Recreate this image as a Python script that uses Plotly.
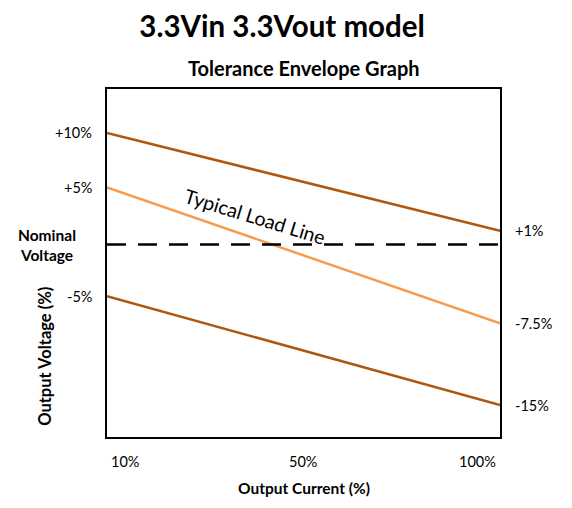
import plotly.graph_objects as go

# Data
current = [10, 100]                 # Output current (%)
upper_limit = [10, 1]               # Output voltage (%)
typical_load = [5, -7.5]
lower_limit = [-5, -15]
nominal = [-0.25, -0.25]
left_labels = ["+10%", "+5%", "-5%"]
left_values = [10, 5, -5]
right_labels = ["+1%", "-7.5%", "-15%"]
right_values = [1, -7.5, -15]
x_tick_labels = ["10%", "50%", "100%"]
x_tick_pos = [0.046, 0.499, 0.944]

FONT = "Lato"
DARK = "#AD5710"
LIGHT = "#F79C4E"

fig = go.Figure()
fig.add_trace(go.Scatter(x=current, y=upper_limit, mode="lines",
                         line=dict(color=DARK, width=2.5), showlegend=False))
fig.add_trace(go.Scatter(x=current, y=typical_load, mode="lines",
                         line=dict(color=LIGHT, width=2.5), showlegend=False))
fig.add_trace(go.Scatter(x=current, y=lower_limit, mode="lines",
                         line=dict(color=DARK, width=2.5), showlegend=False))
fig.add_trace(go.Scatter(x=current, y=nominal, mode="lines",
                         line=dict(color="black", width=2.5, dash="19px,12px"),
                         showlegend=False))

TICK = 14.5
LBL = 15.5
ann = []
for t, v in zip(left_labels, left_values):
    ann.append(dict(x=0, xref="paper", y=v, yref="y", text=t, showarrow=False,
                    xanchor="right", xshift=-13, font=dict(size=TICK, color="black")))
for t, v in zip(right_labels, right_values):
    ann.append(dict(x=1, xref="paper", y=v, yref="y", text=t, showarrow=False,
                    xanchor="left", xshift=13, font=dict(size=TICK, color="black")))
for t, p in zip(x_tick_labels, x_tick_pos):
    ann.append(dict(x=p, xref="paper", y=-0.069, yref="paper", text=t, showarrow=False,
                    xanchor="center", yanchor="middle", font=dict(size=TICK, color="black")))
ann.append(dict(x=-0.153, xref="paper", y=-0.3, yref="y", text="<b>Nominal<br>Voltage</b>",
                showarrow=False, xanchor="center", yanchor="middle",
                font=dict(size=LBL, color="black")))
ann.append(dict(x=-0.158, xref="paper", y=0.233, yref="paper", text="<b>Output Voltage (%)</b>",
                showarrow=False, textangle=-90, xanchor="center", yanchor="middle",
                font=dict(size=16.5, color="black")))
ann.append(dict(x=0.5, xref="paper", y=-0.147, yref="paper", text="<b>Output Current (%)</b>",
                showarrow=False, xanchor="center", yanchor="middle",
                font=dict(size=LBL, color="black")))
ann.append(dict(x=43.9, xref="x", y=2.3, yref="y", text="Typical Load Line",
                showarrow=False, textangle=17, xanchor="center", yanchor="middle",
                font=dict(size=19.5, color="black")))
ann.append(dict(x=0.5, xref="paper", y=1.06, yref="paper", text="<b>Tolerance Envelope Graph</b>",
                showarrow=False, xanchor="center", yanchor="middle",
                font=dict(size=20, color="black")))

fig.update_layout(
    width=564, height=500,
    margin=dict(l=99, r=72, t=81, b=71),
    paper_bgcolor="white", plot_bgcolor="white",
    font=dict(family=FONT, color="black"),
    title=dict(text="<b>3.3Vin 3.3Vout model</b>", x=0.486, xanchor="center",
               y=0.962, yanchor="middle", font=dict(size=29.5, color="black")),
    annotations=ann,
)
fig.update_xaxes(range=[10, 100], showgrid=False, zeroline=False, showticklabels=False,
                 ticks="", showline=True, linecolor="black", linewidth=2, mirror=True)
fig.update_yaxes(range=[-17.94, 14.04], showgrid=False, zeroline=False, showticklabels=False,
                 ticks="", showline=True, linecolor="black", linewidth=2, mirror=True)

fig.write_html("out.html")
